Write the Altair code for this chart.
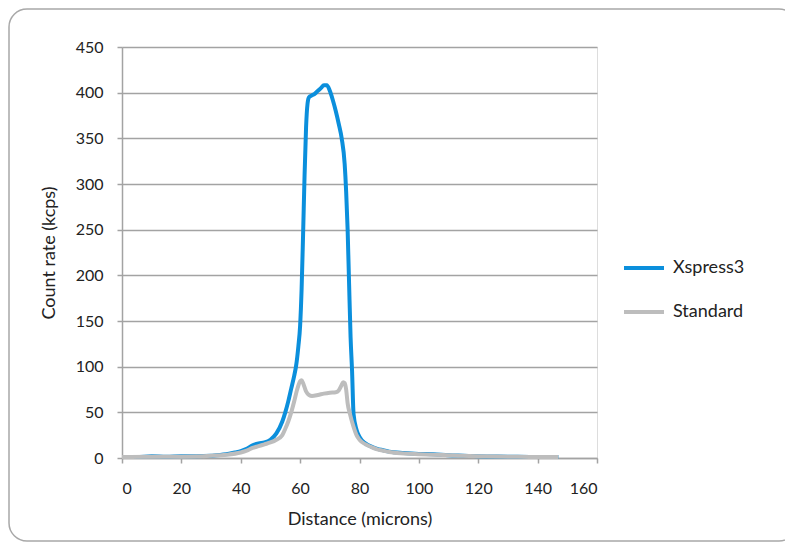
import altair as alt
import pandas as pd

# Xspress3 detector profile (distance in microns, count rate in kcps)
xspress_distance = [0, 5, 10, 15, 20, 25, 30, 35, 38, 40, 42, 44, 46, 48, 50, 52, 54, 55, 56, 57,
                    58, 58.6, 59.4, 60, 60.5, 61, 61.5, 62, 62.5, 63, 64, 65, 66, 67, 68, 69,
                    70, 71, 72, 73, 74, 75, 75.5, 76, 76.5, 77, 77.5, 78, 79, 80, 82, 84, 86, 88,
                    90, 95, 100, 105, 110, 115, 120, 130, 140, 147]
xspress_rate = [1, 1, 2, 1.5, 2, 2, 2.5, 4, 6, 7.5, 10, 14, 16, 17, 20, 27, 40, 50, 62, 76,
                90, 100, 122, 145, 185, 245, 310, 362, 388, 395, 397, 399, 402, 405, 408, 408,
                402, 392, 380, 366, 350, 322, 292, 250, 190, 132, 95, 48, 31, 23, 16, 12.5, 10, 8.5,
                7, 5.5, 4.5, 4, 3, 2.5, 2, 1.5, 1, 1]

# Standard detector profile
standard_distance = [0, 10, 20, 30, 35, 40, 42, 44, 46, 48, 50, 52, 54, 55, 56, 57, 58, 59, 60,
                     60.5, 61, 62, 63, 64, 66, 68, 70, 72, 73, 74, 74.5, 75, 75.5, 76, 76.8, 78,
                     79, 80, 82, 84, 86, 88, 90, 95, 100, 105, 110, 120, 130, 140, 147]
standard_rate = [1, 1.5, 1.5, 2.5, 3.5, 6, 8, 11, 13, 15, 17, 20, 25, 32, 40, 50, 62, 75, 84,
                 85, 82, 73, 69, 68, 69, 70.5, 71.5, 72, 74, 80, 83, 82, 75, 60, 48, 34,
                 25, 20, 15, 12, 9.5, 8, 6.5, 5, 4.2, 3.5, 3, 2, 1.5, 1, 1]

series = ["Xspress3", "Standard"]
colors = ["#0b8fdc", "#bdbdbd"]

rows = [{"Distance": d, "Rate": r, "Detector": "Xspress3"} for d, r in zip(xspress_distance, xspress_rate)]
rows += [{"Distance": d, "Rate": r, "Detector": "Standard"} for d, r in zip(standard_distance, standard_rate)]
df = pd.DataFrame(rows)

FONT = "Lato"
GRID = "#a3a3a3"

frame = alt.Chart(alt.Data(values=[{"a": 1}])).mark_rect(
    fill="transparent", stroke="#a8a8a8", strokeWidth=1.5, cornerRadius=18
).encode(
    x=alt.value(-113), x2=alt.value(675), y=alt.value(-38), y2=alt.value(494)
)

lines = alt.Chart(df).mark_line(strokeWidth=4, interpolate="monotone").encode(
    x=alt.X("Distance:Q",
            scale=alt.Scale(domain=[0, 160], nice=False),
            axis=alt.Axis(values=list(range(0, 161, 20)), title="Distance (microns)", grid=False,
                          domainColor=GRID, domainWidth=1.5, tickColor=GRID, tickWidth=1.5, tickSize=5,
                          labelPadding=17, labelFontSize=16, titleFontSize=18, titlePadding=14)),
    y=alt.Y("Rate:Q",
            scale=alt.Scale(domain=[0, 450], nice=False),
            axis=alt.Axis(values=list(range(0, 451, 50)), title="Count rate (kcps)", grid=True,
                          gridColor=GRID, gridWidth=1.5,
                          domainColor=GRID, domainWidth=1.5, tickColor=GRID, tickWidth=1.5, tickSize=5,
                          labelPadding=14, labelFontSize=16, titleFontSize=18, titlePadding=17)),
    color=alt.Color("Detector:N",
                    scale=alt.Scale(domain=series, range=colors),
                    legend=alt.Legend(title=None, orient="none", legendX=500, legendY=199,
                                      symbolType="stroke", symbolSize=1600, symbolStrokeWidth=4,
                                      labelFontSize=18, rowPadding=13, labelOffset=7, padding=0)),
    order=alt.Order("Detector:N", sort="descending"),
)

chart = alt.layer(frame, lines).properties(
    width=475, height=411,
    padding={"left": 114, "top": 39, "right": 188, "bottom": 84},
    autosize=alt.AutoSizeParams(type="none"),
).configure_view(stroke=None).configure(
    font=FONT
).configure_axis(
    labelColor="#222222", titleColor="#222222", titleFontWeight="normal", labelFont=FONT, titleFont=FONT
).configure_legend(
    labelColor="#222222", labelFont=FONT
)

chart.save("out.html", embed_options={"renderer": "svg", "actions": False})
